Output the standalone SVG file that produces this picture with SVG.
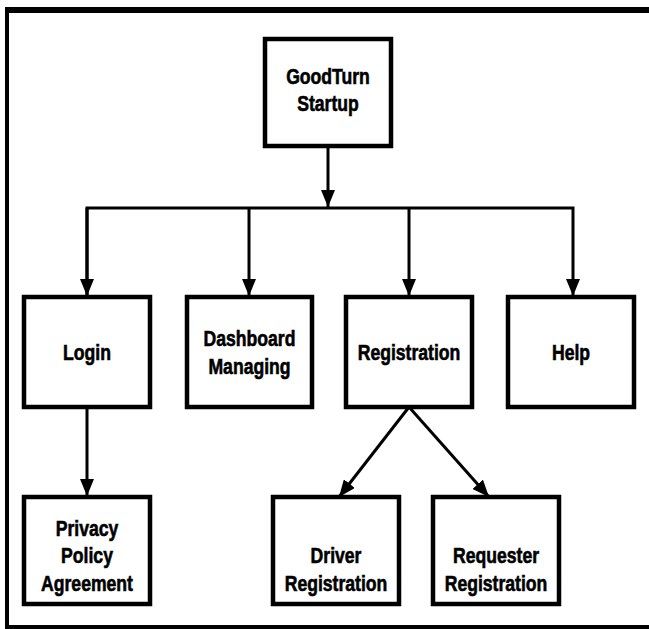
<svg xmlns="http://www.w3.org/2000/svg" width="649" height="629" viewBox="0 0 649 629">
<style>
.box{fill:#fff;stroke:#000;stroke-width:4.5}
.lbl{font-family:"Liberation Sans",Arial,sans-serif;font-weight:bold;font-size:22px;fill:#000;stroke:#000;stroke-width:0.6;text-anchor:middle}
.con{fill:none;stroke:#000;stroke-width:3}
.frame{fill:none;stroke:#000}
</style>
<defs>
<marker id="ah" markerUnits="userSpaceOnUse" markerWidth="17" markerHeight="14" refX="17" refY="7" orient="auto">
<path d="M0,0 L17,7 L0,14 z" fill="#000"/>
</marker>
</defs>
<rect x="0" y="0" width="649" height="629" fill="#fff"/>
<g id="frame">
<line class="frame" x1="5" y1="10" x2="649" y2="10" stroke-width="6"/>
<line class="frame" x1="7" y1="7" x2="7" y2="629" stroke-width="4"/>
<line class="frame" x1="5" y1="627" x2="649" y2="627" stroke-width="4"/>
</g>
<g id="connectors">
<line class="con" x1="328" y1="146" x2="328" y2="207" marker-end="url(#ah)"/>
<polyline class="con" points="87,296 87,208 573,208 573,296" marker-end="url(#ah)"/>
<line class="con" x1="87" y1="208" x2="87" y2="296" marker-end="url(#ah)"/>
<line class="con" x1="249" y1="208" x2="249" y2="296" marker-end="url(#ah)"/>
<line class="con" x1="409" y1="208" x2="409" y2="296" marker-end="url(#ah)"/>
<line class="con" x1="87" y1="407" x2="87" y2="496" marker-end="url(#ah)"/>
<line class="con" x1="409" y1="407" x2="339" y2="497" marker-end="url(#ah)"/>
<line class="con" x1="409" y1="407" x2="489" y2="497" marker-end="url(#ah)"/>
</g>
<g id="goodturn">
<rect class="box" x="265" y="39" width="126" height="107"/>
<text class="lbl" transform="translate(328,84) scale(0.8,1)">GoodTurn</text>
<text class="lbl" transform="translate(328,111) scale(0.8,1)">Startup</text>
</g>
<g id="login">
<rect class="box" x="24" y="297" width="126" height="110"/>
<text class="lbl" transform="translate(87,360) scale(0.8,1)">Login</text>
</g>
<g id="dashboard">
<rect class="box" x="187" y="297" width="125" height="110"/>
<text class="lbl" transform="translate(249.5,346) scale(0.8,1)">Dashboard</text>
<text class="lbl" transform="translate(249.5,374) scale(0.8,1)">Managing</text>
</g>
<g id="registration">
<rect class="box" x="346" y="297" width="126" height="110"/>
<text class="lbl" transform="translate(409,360) scale(0.8,1)">Registration</text>
</g>
<g id="help">
<rect class="box" x="508" y="297" width="126" height="110"/>
<text class="lbl" transform="translate(571,360) scale(0.8,1)">Help</text>
</g>
<g id="privacy">
<rect class="box" x="24" y="497" width="126" height="107"/>
<text class="lbl" transform="translate(87,536) scale(0.8,1)">Privacy</text>
<text class="lbl" transform="translate(87,563) scale(0.8,1)">Policy</text>
<text class="lbl" transform="translate(87,591) scale(0.8,1)">Agreement</text>
</g>
<g id="driver">
<rect class="box" x="273" y="497" width="126" height="107"/>
<text class="lbl" transform="translate(336,563) scale(0.8,1)">Driver</text>
<text class="lbl" transform="translate(336,591) scale(0.8,1)">Registration</text>
</g>
<g id="requester">
<rect class="box" x="433" y="497" width="126" height="107"/>
<text class="lbl" transform="translate(496,563) scale(0.8,1)">Requester</text>
<text class="lbl" transform="translate(496,591) scale(0.8,1)">Registration</text>
</g>
</svg>
